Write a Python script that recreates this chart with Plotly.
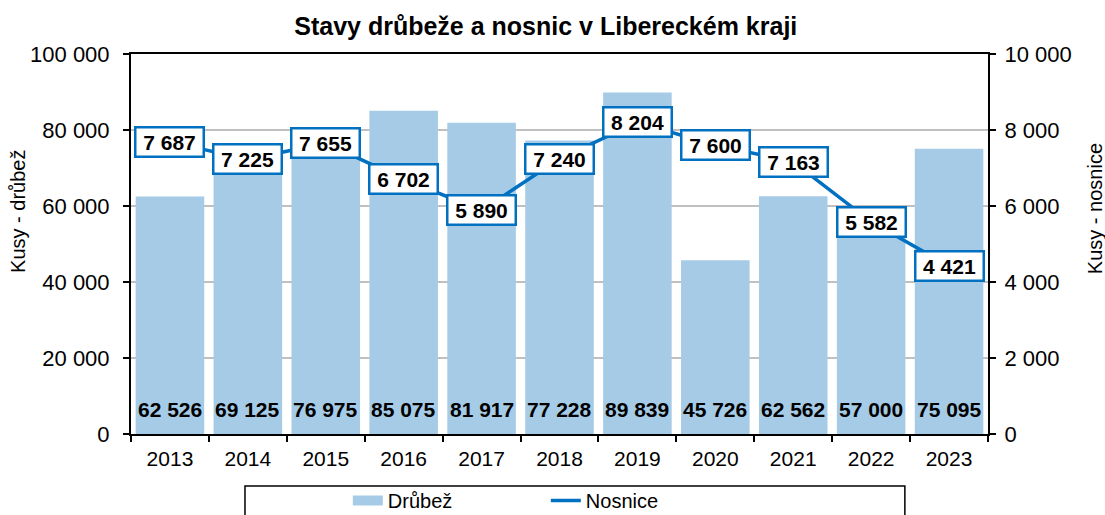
import plotly.graph_objects as go

years = ["2013", "2014", "2015", "2016", "2017", "2018", "2019", "2020", "2021", "2022", "2023"]
drubez = [62526, 69125, 76975, 85075, 81917, 77228, 89839, 45726, 62562, 57000, 75095]
nosnice = [7687, 7225, 7655, 6702, 5890, 7240, 8204, 7600, 7163, 5582, 4421]

left_ticks = [0, 20000, 40000, 60000, 80000, 100000]
right_ticks = [0, 2000, 4000, 6000, 8000, 10000]


def fmt(v):
    return f"{v:,}".replace(",", " ")


FONT = "Liberation Sans, Arial, sans-serif"
BAR_COLOR = "#a6cbe6"
LINE_COLOR = "#0070c0"
FS = 21
TFS = 22

fig = go.Figure()
fig.add_trace(go.Bar(
    x=years, y=drubez, name="Drůbež", marker=dict(color=BAR_COLOR, line=dict(width=0)),
    yaxis="y", showlegend=False, legendgroup="d",
))
# legend entry for the bars (wide swatch like the reference)
fig.add_trace(go.Scatter(
    x=[None], y=[None], name="Drůbež", mode="lines", legendgroup="d",
    line=dict(color=BAR_COLOR, width=10), yaxis="y",
))
fig.add_trace(go.Scatter(
    x=years, y=nosnice, name="Nosnice", mode="lines",
    line=dict(color=LINE_COLOR, width=3.5), yaxis="y2",
))

annotations = []
for i, v in enumerate(drubez):
    annotations.append(dict(
        x=i, y=0, xref="x", yref="y", text=f"<b>{fmt(v)}</b>", showarrow=False,
        yanchor="middle", yshift=25, font=dict(family=FONT, size=FS, color="black"),
    ))
for i, v in enumerate(nosnice):
    annotations.append(dict(
        x=i, y=v, xref="x", yref="y2", text=f"<b>{fmt(v)}</b>", showarrow=False,
        xanchor="center", yanchor="middle",
        font=dict(family=FONT, size=FS, color="black"),
        bgcolor="white", bordercolor=LINE_COLOR, borderwidth=2.5, borderpad=1,
        width=64, height=25,
    ))
# axis titles
annotations.append(dict(text="Kusy - drůbež", xref="paper", yref="paper", x=-0.1319, y=0.587,
                        textangle=-90, showarrow=False, xanchor="center", yanchor="middle",
                        font=dict(family=FONT, size=20, color="black")))
annotations.append(dict(text="Kusy - nosnice", xref="paper", yref="paper", x=1.125, y=0.592,
                        textangle=-90, showarrow=False, xanchor="center", yanchor="middle",
                        font=dict(family=FONT, size=20, color="black")))

fig.update_layout(
    width=1105, height=515,
    margin=dict(l=131, r=117, t=54, b=81, autoexpand=False),
    paper_bgcolor="white", plot_bgcolor="white",
    font=dict(family=FONT, size=FS, color="black"),
    title=dict(text="<b>Stavy drůbeže a nosnic v Libereckém kraji</b>",
               x=0.484, xref="paper", xanchor="center", y=0.95, yanchor="middle",
               font=dict(family=FONT, size=25, color="black")),
    bargap=0.12,
    showlegend=True,
    legend=dict(orientation="h", x=0.253, xanchor="left", y=-0.175, yanchor="middle",
                entrywidth=153, entrywidthmode="pixels",
                font=dict(family=FONT, size=20, color="black"),
                bgcolor="rgba(0,0,0,0)", borderwidth=0),
    xaxis=dict(type="category", range=[-0.5, len(years) - 0.5],
               showline=True, linecolor="black", linewidth=2, mirror=True,
               ticks="outside", tickson="boundaries", ticklen=6, tickcolor="black", tickwidth=2,
               showgrid=False, tickfont=dict(size=FS), tickangle=0, ticklabelstandoff=5),
    yaxis=dict(range=[0, 100000], tickvals=left_ticks, ticktext=[fmt(t) for t in left_ticks],
               showline=True, linecolor="black", linewidth=2, ticks="outside", ticklen=6,
               tickcolor="black", tickwidth=2, showgrid=True, gridcolor="#c0c0c0", gridwidth=1.5,
               zeroline=False, tickfont=dict(size=TFS), ticklabelstandoff=9),
    yaxis2=dict(range=[0, 10000], overlaying="y", side="right",
                tickvals=right_ticks, ticktext=[fmt(t) for t in right_ticks],
                showline=True, linecolor="black", linewidth=2, ticks="outside", ticklen=6,
                tickcolor="black", tickwidth=2, showgrid=False, zeroline=False,
                tickfont=dict(size=TFS), ticklabelstandoff=4),
    annotations=annotations,
    shapes=[dict(type="rect", xref="paper", yref="paper", x0=0.133, x1=0.903,
                 y0=-0.26, y1=-0.137, line=dict(color="black", width=1.5),
                 fillcolor="rgba(0,0,0,0)", layer="above")],
)

fig.write_html("out.html")
